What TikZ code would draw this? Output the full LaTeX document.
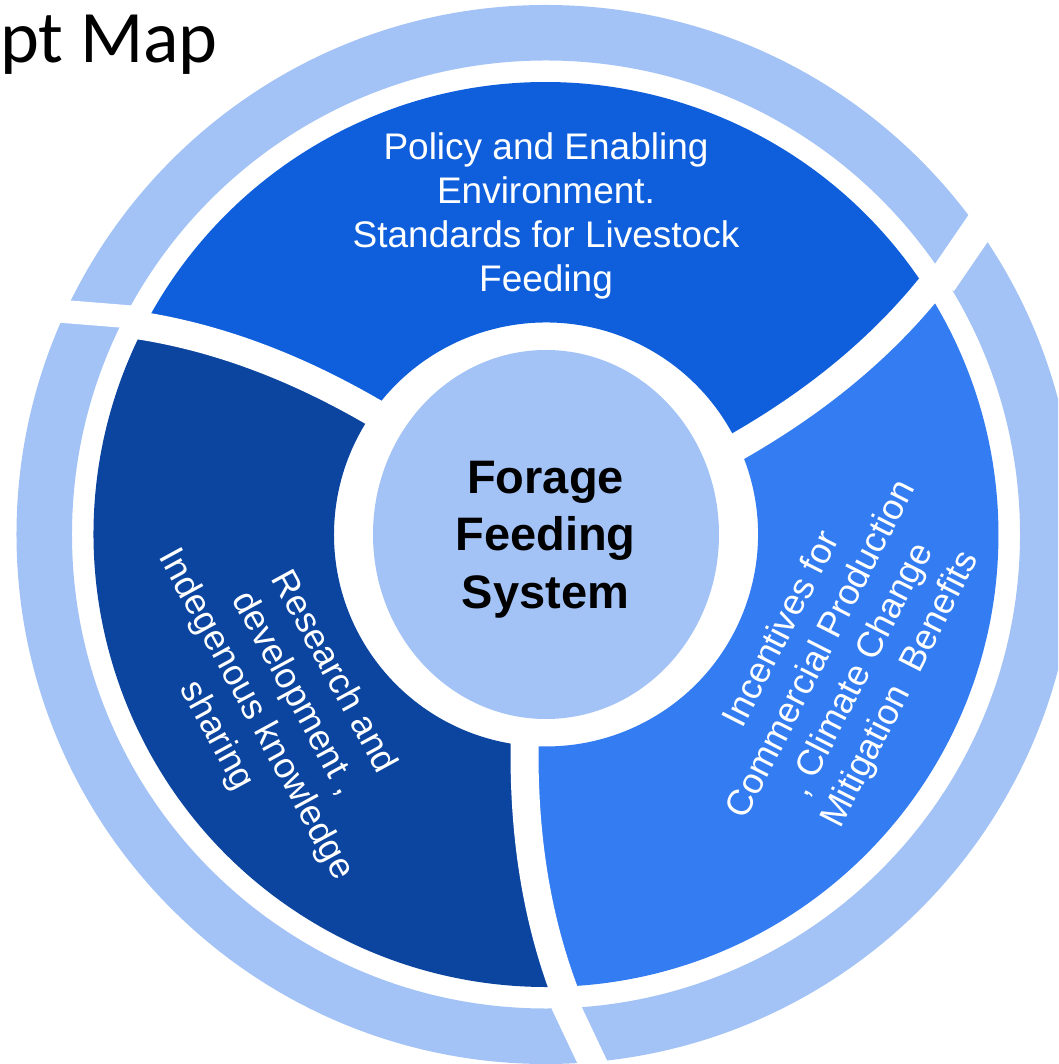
\documentclass[tikz,border=0pt]{standalone}
\usepackage{fontspec}
\setmainfont{Liberation Sans}
\newfontfamily\titlefont{Carlito}
\definecolor{ringlight}{HTML}{A3C3F7}
\definecolor{segtop}{HTML}{0F5FDC}
\definecolor{segright}{HTML}{337CF2}
\definecolor{segdark}{HTML}{0B45A0}
% One block of the middle ring, bounded by two separator curves
% (#1 and #2 are the inner angles of the separators, #3 the colour).
\newcommand\ringpart[3]{%
  \fill[#3] plot[domain=0:1,samples=40,variable=\t] ({sepang(#1,\t)}:{212+240.5*\t})
    arc[start angle={#1+7.9}, end angle={#2+7.9}, radius=452.5pt]
    -- plot[domain=1:0,samples=40,variable=\t] ({sepang(#2,\t)}:{212+240.5*\t})
    arc[start angle={#2}, end angle={#1}, radius=212pt] -- cycle;}
\begin{document}
\begin{tikzpicture}[x=1pt,y=1pt,
  declare function={sepang(\a,\t)=\a+7.9*(0.75*\t+0.25*\t*\t);},
  sepline/.style={draw=white,line width=28pt},
  cutline/.style={draw=white},
  toptext/.style={text=white,align=center,inner sep=0pt,font=\fontsize{37}{44.2}\selectfont},
  segtext/.style={text=white,align=center,inner sep=0pt,font=\fontsize{36}{44.2}\selectfont},
  hubtext/.style={text=black,align=center,inner sep=0pt,font=\bfseries\fontsize{47}{57.5}\selectfont}]
\useasboundingbox (-546,-529.5) rectangle (512,534.5);
\clip (-546,-529.5) rectangle (512,534.5);
\fill[white] (-546,-529.5) rectangle (512,534.5);

% outer ring with its three slanted cuts
\fill[ringlight,even odd rule] (0,0) circle[radius=529.5pt] (0,0) circle[radius=474pt];
\foreach \c/\w in {34.1/31, 153.9/23, 273.8/28}
  \draw[cutline,line width=\w pt,shift={(\c:501)}] ({\c+201.5}:35) -- ({\c+21.5}:45);

% middle ring: three coloured blocks and the white curved separators
\ringpart{24.7}{144.7}{segtop}
\ringpart{144.7}{264.2}{segdark}
\ringpart{264.2}{384.7}{segright}
\foreach \a in {24.7,144.7,264.2}
  \draw[sepline] plot[domain=-0.03:1.06,samples=50,variable=\t] ({sepang(\a,\t)}:{212+240.5*\t});

% hub
\fill[ringlight] (0,0) ellipse[x radius=173pt, y radius=184.5pt];

% labels
\node[toptext] (policy) at (0,318.7)
  {Policy and Enabling\\Environment.\\Standards for Livestock\\Feeding};
\node[hubtext] (hub) at (-0.5,-5.1) {Forage\\Feeding\\System};
\node[segtext,rotate=-61.4] (research) at (-271.4,-170)
  {Research and\\development ,\\Indegenous knowledge\\sharing};
\node[segtext,rotate=63] (incentives) at (296,-125.5)
  {Incentives for\\Commercial Production\\, Climate Change\\Mitigation~ Benefits};
\node[anchor=base west,inner sep=0pt,font=\titlefont\fontsize{74}{80}\selectfont] (title)
  at (-546,472) {pt Map};
\end{tikzpicture}
\end{document}
